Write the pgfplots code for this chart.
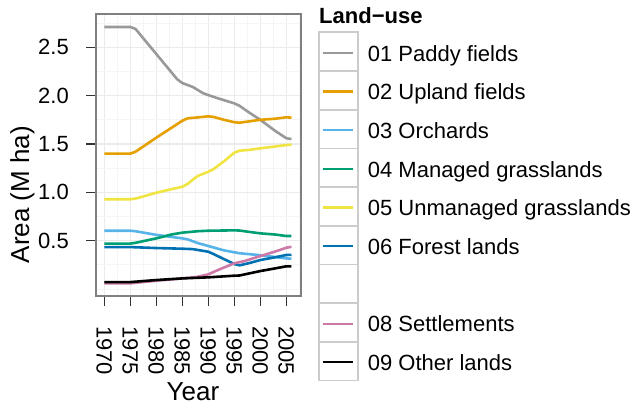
\documentclass[border=0pt]{standalone}
\usepackage{fontspec}
\setmainfont{Liberation Sans}
\usepackage{pgfplots}
\pgfplotsset{compat=1.18}

\definecolor{cPaddy}{HTML}{999999}
\definecolor{cUpland}{HTML}{E69F00}
\definecolor{cOrch}{HTML}{56B4E9}
\definecolor{cMgd}{HTML}{009E73}
\definecolor{cUnm}{HTML}{F0E442}
\definecolor{cForest}{HTML}{0072B2}
\definecolor{cSettle}{HTML}{CC79A7}
\definecolor{cOther}{HTML}{000000}

\newcommand{\fsz}[1]{\fontsize{#1}{#1}\selectfont}

\tikzset{keybox/.style={draw=gray!40,line width=1.6pt}}

% one legend row: #1 = row index, #2 = line colour, #3 = text
\newcommand{\keyrow}[3]{%
  \pgfmathsetmacro{\yt}{263.7-38.7*#1}%
  \draw[keybox] (223pt,\yt pt) rectangle (262pt,\yt pt-38.7pt);
  \draw[color=#2,line width=2.2pt] (226.7pt,\yt pt-20.4pt) -- (257.3pt,\yt pt-20.4pt);
  \node[anchor=base west,inner sep=0pt,font=\fsz{22}] at (271.7pt,\yt pt-28.7pt) {#3};
}

\begin{document}
\begin{tikzpicture}
\useasboundingbox (-96pt,-109pt) rectangle (540pt,296pt);
\begin{axis}[
  scale only axis, width=205pt, height=282pt,
  xmin=1968.40, xmax=2007.83, ymin=-0.072, ymax=2.844,
  xtick={1970,1975,...,2005},
  ytick={0.5,1.0,1.5,2.0,2.5},
  yticklabels={0.5,1.0,1.5,2.0,2.5},
  minor xtick={1967.5,1972.5,...,2007.5},
  minor ytick={0,0.25,0.75,1.25,1.75,2.25,2.75},
  grid=both,
  major grid style={gray!16,line width=1.3pt},
  minor grid style={gray!8,line width=0.8pt},
  axis line style={gray,line width=2pt},
  tick align=outside, tick pos=left,
  major tick length=10pt, minor tick length=0pt,
  major tick style={black!80,line width=1.3pt},
  /pgf/number format/assume math mode=true,
  tick label style={font=\fsz{22}},
  xticklabel style={rotate=-90,anchor=west,inner sep=0pt,
    /pgf/number format/1000 sep={}},
  xticklabel shift=20pt,
  yticklabel style={anchor=east,inner sep=0pt},
  yticklabel shift=17pt,
  xlabel={Year}, ylabel={Area (M ha)},
  label style={font=\fsz{26}},
  xlabel style={at={(axis description cs:0.473,-0.372)},anchor=base,inner sep=0pt},
  ylabel style={at={(axis description cs:-0.3585,0.36)},anchor=center,inner sep=0pt},
  every axis plot/.append style={line width=2.6pt,line join=round,no markers},
  clip=false,
]
% 01 Paddy fields
\addplot[cPaddy] coordinates {(1970,2.71)(1975,2.71)(1976,2.69)(1980,2.43)(1984,2.17)(1985,2.13)(1987,2.09)(1989,2.025)(1990,2.005)(1992,1.97)(1995,1.92)(1996,1.895)(1998,1.82)(2000,1.75)(2003,1.63)(2005,1.56)(2006,1.55)};
% 02 Upland fields
\addplot[cUpland] coordinates {(1970,1.40)(1975,1.40)(1976,1.42)(1980,1.565)(1985,1.74)(1986,1.765)(1988,1.775)(1990,1.786)(1991,1.78)(1993,1.75)(1995,1.725)(1996,1.72)(1998,1.735)(2000,1.75)(2003,1.762)(2005,1.776)(2006,1.772)};
% 03 Orchards
\addplot[cOrch] coordinates {(1970,0.603)(1975,0.603)(1976,0.598)(1980,0.56)(1985,0.524)(1986,0.514)(1988,0.475)(1990,0.445)(1991,0.43)(1993,0.40)(1995,0.38)(1996,0.37)(1998,0.36)(2000,0.35)(2003,0.33)(2005,0.317)(2006,0.314)};
% 04 Managed grasslands
\addplot[cMgd] coordinates {(1970,0.47)(1975,0.47)(1976,0.478)(1980,0.524)(1983,0.565)(1985,0.583)(1988,0.598)(1990,0.603)(1995,0.607)(1996,0.605)(1998,0.59)(2000,0.576)(2003,0.563)(2005,0.548)(2006,0.548)};
% 05 Unmanaged grasslands
\addplot[cUnm] coordinates {(1970,0.928)(1975,0.928)(1976,0.935)(1980,0.996)(1985,1.058)(1986,1.086)(1987,1.13)(1988,1.17)(1990,1.213)(1991,1.24)(1993,1.32)(1995,1.41)(1996,1.43)(1998,1.44)(2000,1.455)(2003,1.475)(2005,1.489)(2006,1.493)};
% 06 Forest lands
\addplot[cForest] coordinates {(1970,0.434)(1975,0.434)(1980,0.424)(1985,0.417)(1987,0.413)(1990,0.386)(1991,0.362)(1993,0.31)(1995,0.259)(1996,0.245)(1998,0.27)(2000,0.30)(2003,0.33)(2005,0.352)(2006,0.354)};
% 08 Settlements
\addplot[cSettle] coordinates {(1970,0.059)(1975,0.059)(1980,0.086)(1985,0.11)(1988,0.127)(1990,0.152)(1992,0.20)(1995,0.266)(1997,0.29)(2000,0.341)(2003,0.39)(2005,0.427)(2006,0.437)};
% 09 Other lands
\addplot[cOther] coordinates {(1970,0.072)(1975,0.072)(1980,0.093)(1985,0.11)(1990,0.121)(1995,0.138)(1996,0.14)(2000,0.186)(2003,0.215)(2005,0.235)(2006,0.235)};
\end{axis}
% legend (ggplot style keys, 07 left empty)
\node[anchor=base west,inner sep=0pt,font=\fsz{22}\bfseries] at (223pt,272pt) {Land−use};
\keyrow{0}{cPaddy}{01 Paddy fields}
\keyrow{1}{cUpland}{02 Upland fields}
\keyrow{2}{cOrch}{03 Orchards}
\keyrow{3}{cMgd}{04 Managed grasslands}
\keyrow{4}{cUnm}{05 Unmanaged grasslands}
\keyrow{5}{cForest}{06 Forest lands}
\draw[keybox] (223pt,31.5pt) rectangle (262pt,-7.2pt);
\keyrow{7}{cSettle}{08 Settlements}
\keyrow{8}{cOther}{09 Other lands}
\end{tikzpicture}
\end{document}
